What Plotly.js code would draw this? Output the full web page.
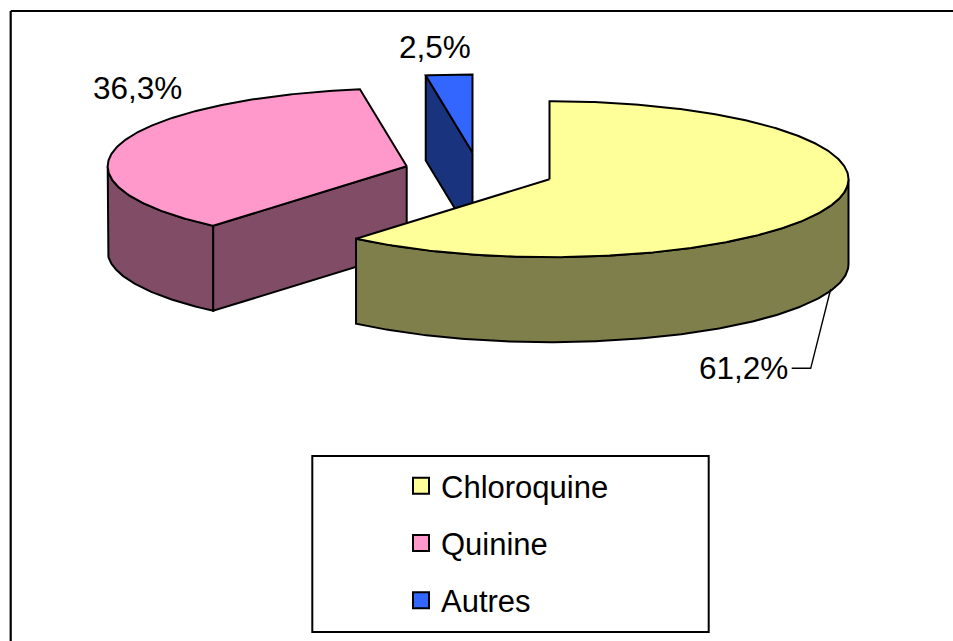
<!DOCTYPE html>
<html><head><meta charset="utf-8">
<script src="https://cdn.plot.ly/plotly-3.0.1.min.js"></script>
<style>html,body{margin:0;padding:0;background:#fff}#c{width:953px;height:641px}</style>
</head><body><div id="c"></div>
<script>
const categories = ["Chloroquine", "Quinine", "Autres"];
const shares = [61.2, 36.3, 2.5];
const shareLabels = ["61,2%", "36,3%", "2,5%"];
const topColors = ["#FFFF99", "#FF99CC", "#3366FF"];
const sideColors = ["#7F7F4C", "#804C66", "#19337F"];
const centersX = [549.5, 406.7, 472.5];
const centersY = [179.2, 166.3, 152.5];

const RX = 299, RY = 78, DEPTH = 85, STROKE = 2;
const FONT = "Liberation Sans, Arial, sans-serif";
const TEXT_SIZE = 31;

// Clockwise angle from 12 o'clock, in degrees, projected to an ellipse.
const px = (i, a) => centersX[i] + RX * Math.sin(a * Math.PI / 180);
const py = (i, a) => centersY[i] - RY * Math.cos(a * Math.PI / 180);

let run = 0;
const spans = shares.map(v => { const s = run; run += v * 3.6; return [s, run]; });

function arc(i, a0, a1, dy) {
  const n = Math.max(2, Math.ceil(Math.abs(a1 - a0) * 1.5));
  const xs = [], ys = [];
  for (let k = 0; k <= n; k++) {
    const a = a0 + (a1 - a0) * k / n;
    xs.push(px(i, a)); ys.push(py(i, a) + dy);
  }
  return [xs, ys];
}
function poly(xs, ys, fill, name) {
  return {type: "scatter", mode: "lines", x: xs, y: ys, fill: "toself", fillcolor: fill,
    line: {color: "#000", width: STROKE, shape: "linear"}, hoverinfo: "skip", showlegend: false, name: name};
}
function wall(i, a0, a1) {
  const [x0, y0] = arc(i, a0, a1, 0);
  const [x1, y1] = arc(i, a1, a0, DEPTH);
  return poly(x0.concat(x1, [x0[0]]), y0.concat(y1, [y0[0]]), sideColors[i], categories[i]);
}
function radialWall(i, a) {
  const xe = px(i, a), ye = py(i, a), xc = centersX[i], yc = centersY[i];
  return poly([xc, xe, xe, xc, xc], [yc, ye, ye + DEPTH, yc + DEPTH, yc], sideColors[i], categories[i]);
}
function topFace(i) {
  const [x0, y0] = arc(i, spans[i][0], spans[i][1], 0);
  return poly([centersX[i]].concat(x0, [centersX[i]]), [centersY[i]].concat(y0, [centersY[i]]), topColors[i], categories[i]);
}

const traces = [
  // Quinine
  wall(1, spans[1][0], 270),
  radialWall(1, spans[1][0]),
  topFace(1),
  // Autres
  radialWall(2, spans[2][0]),
  topFace(2),
  // Chloroquine
  wall(0, 90, spans[0][1]),
  topFace(0),
  // Leader line for the 61,2% label
  {type: "scatter", mode: "lines", x: [791.7, 810.7, 830.7], y: [368.3, 368.3, 289],
   line: {color: "#000", width: 1.4}, hoverinfo: "skip", showlegend: false}
];
categories.forEach((c, i) => traces.push({
  type: "scatter", mode: "markers", x: [null], y: [null], name: c, legendgroup: c,
  marker: {symbol: "square", size: 16, color: topColors[i], line: {color: "#000", width: 2}}
}));

const layout = {
  width: 953, height: 641, margin: {l: 0, r: 0, t: 0, b: 0},
  paper_bgcolor: "#fff", plot_bgcolor: "#fff",
  xaxis: {range: [0, 953], visible: false, fixedrange: true},
  yaxis: {range: [641, 0], visible: false, fixedrange: true},
  font: {family: FONT, color: "#000", size: TEXT_SIZE},
  showlegend: true,
  legend: {x: 401 / 953, y: 1 - 459 / 641, xanchor: "left", yanchor: "top",
    bgcolor: "rgba(0,0,0,0)", borderwidth: 0, tracegroupgap: 14, itemclick: false, itemdoubleclick: false,
    font: {family: FONT, size: TEXT_SIZE, color: "#000"}},
  shapes: [
    {type: "line", xref: "x", yref: "y", x0: 10.7, y0: 11, x1: 10.7, y1: 641, line: {color: "#000", width: 2.2}},
    {type: "line", xref: "x", yref: "y", x0: 10.7, y0: 11, x1: 953, y1: 11, line: {color: "#000", width: 2.2}},
    {type: "rect", xref: "x", yref: "y", x0: 312.3, y0: 456, x1: 708.7, y1: 632, line: {color: "#000", width: 2}, fillcolor: "rgba(0,0,0,0)", layer: "below"}
  ],
  annotations: [
    {x: 743.5, y: 367.5, text: shareLabels[0]},
    {x: 137.5, y: 87.5, text: shareLabels[1]},
    {x: 435, y: 46.5, text: shareLabels[2]}
  ].map(a => Object.assign(a, {xref: "x", yref: "y", showarrow: false, xanchor: "center", yanchor: "middle",
    font: {family: FONT, size: TEXT_SIZE + 0.5, color: "#000"}}))
};
Plotly.newPlot("c", traces, layout, {displayModeBar: false, staticPlot: true});
</script></body></html>
